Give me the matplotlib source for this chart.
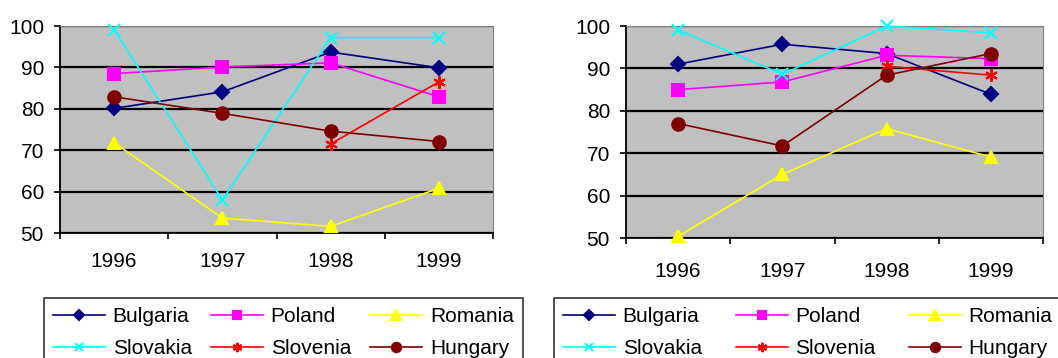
import matplotlib
matplotlib.use("Agg")
import matplotlib.pyplot as plt

plt.rcParams['font.family'] = ['Liberation Sans', 'DejaVu Sans']

years = ['1996', '1997', '1998', '1999']
countries = ['Bulgaria', 'Poland', 'Romania', 'Slovakia', 'Slovenia', 'Hungary']

# left chart values (None = no data)
left_bulgaria = [80.1, 84.1, 93.7, 89.9]
left_poland = [88.5, 90.1, 91.1, 82.9]
left_romania = [71.8, 53.6, 51.6, 60.8]
left_slovakia = [99.1, 58.0, 97.2, 97.2]
left_slovenia = [None, None, 71.5, 86.5]
left_hungary = [82.9, 78.9, 74.6, 72.1]

# right chart values
right_bulgaria = [91.0, 95.7, 93.5, 83.9]
right_poland = [85.0, 86.8, 93.1, 92.3]
right_romania = [50.4, 65.0, 75.8, 69.1]
right_slovakia = [99.1, 88.6, 100.0, 98.4]
right_slovenia = [None, None, 90.5, 88.4]
right_hungary = [77.0, 71.7, 88.4, 93.5]

colors = ['#000080', '#ff00ff', '#ffff00', '#00ffff', '#ff0000', '#800000']
markers = ['D', 's', '^', 'x', (6, 2, 0), 'o']
msizes = [7, 8, 9, 8, 9, 9]

fig = plt.figure(figsize=(10.58, 3.58), dpi=100)
ax1 = fig.add_axes([60/1058, 1-233/358, 433/1058, 207/358])
ax2 = fig.add_axes([626/1058, 1-238/358, 417/1058, 212/358])


def draw(ax, series, pad_x):
    ax.set_facecolor('#c0c0c0')
    lines = []
    for vals, c, m, ms, name in zip(series, colors, markers, msizes, countries):
        xs = [i for i, v in enumerate(vals) if v is not None]
        ys = [v for v in vals if v is not None]
        ln, = ax.plot(xs, ys, color=c, lw=1.2, marker=m, ms=ms,
                      mec=c, mfc=c, mew=1.5, label=name, clip_on=False, zorder=3)
        lines.append(ln)
    ax.set_xlim(-0.5, 3.5)
    ax.set_ylim(50, 100)
    ax.set_yticks([50, 60, 70, 80, 90, 100])
    ax.yaxis.grid(True, color='black', lw=1.6)
    ax.set_axisbelow(True)
    ax.set_xticks([-0.5, 0.5, 1.5, 2.5, 3.5])
    ax.set_xticklabels([])
    ax.set_xticks([0, 1, 2, 3], minor=True)
    ax.set_xticklabels(years, minor=True)
    ax.tick_params(axis='x', which='minor', length=0, pad=pad_x, labelsize=15)
    ax.tick_params(axis='x', which='major', length=4.5, width=1.2)
    ax.tick_params(axis='y', length=4.5, width=1.2, labelsize=15, pad=7)
    for s in ['top', 'right']:
        ax.spines[s].set_color('#808080')
    for s in ['left', 'bottom']:
        ax.spines[s].set_color('black')
        ax.spines[s].set_linewidth(1.3)
    return lines


lines1 = draw(ax1, [left_bulgaria, left_poland, left_romania,
                    left_slovakia, left_slovenia, left_hungary], 14)
lines2 = draw(ax2, [right_bulgaria, right_poland, right_romania,
                    right_slovakia, right_slovenia, right_hungary], 17)

# matplotlib fills legend columns first, reorder so rows read across
order = [0, 3, 1, 4, 2, 5]
top = 1 - 298/358
for lines, x0, x1 in [(lines1, 44, 523), (lines2, 554, 1062)]:
    hs = [lines[i] for i in order]
    ls = [countries[i] for i in order]
    leg = fig.legend(hs, ls, ncol=3, loc='upper left', mode='expand',
                     bbox_to_anchor=(x0/1058, 0, (x1-x0)/1058, top),
                     fontsize=15, frameon=True, fancybox=False, edgecolor='black',
                     handlelength=2.5, columnspacing=0.8, handletextpad=0.35,
                     labelspacing=0.6, borderpad=0.45, borderaxespad=0,
                     markerscale=0.75)
    leg.get_frame().set_linewidth(1.2)

fig.savefig('out.png', dpi=100)
